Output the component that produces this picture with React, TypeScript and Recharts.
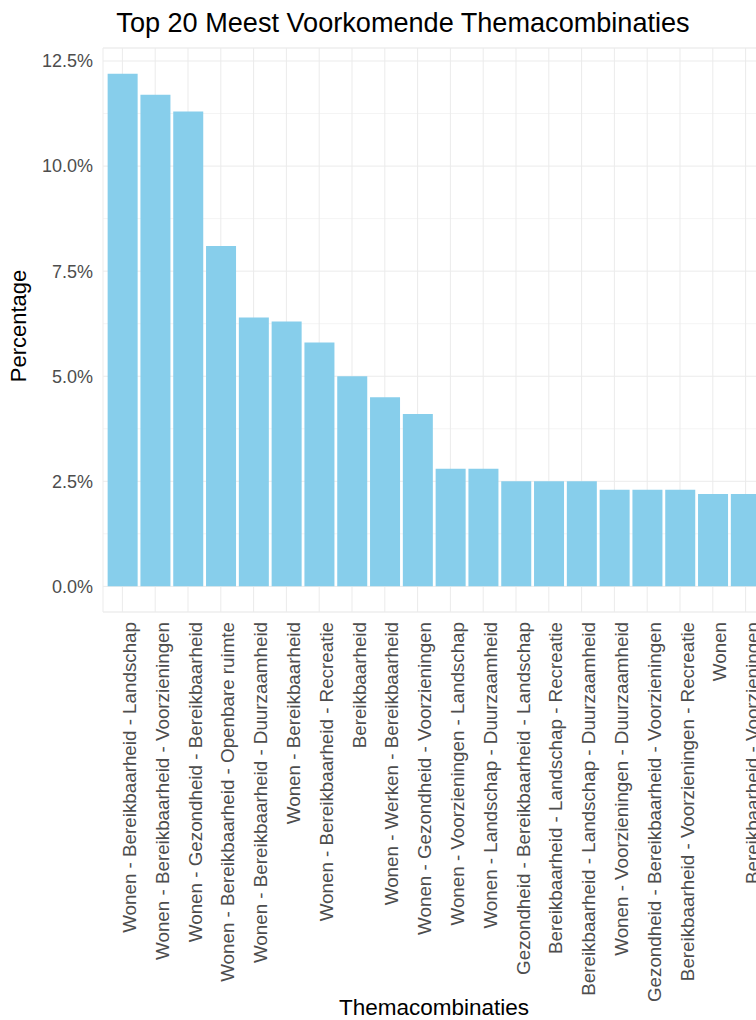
import React from 'react';
import { BarChart, Bar, XAxis, YAxis, CartesianGrid } from 'recharts';

const categories = [
  'Wonen - Bereikbaarheid - Landschap',
  'Wonen - Bereikbaarheid - Voorzieningen',
  'Wonen - Gezondheid - Bereikbaarheid',
  'Wonen - Bereikbaarheid - Openbare ruimte',
  'Wonen - Bereikbaarheid - Duurzaamheid',
  'Wonen - Bereikbaarheid',
  'Wonen - Bereikbaarheid - Recreatie',
  'Bereikbaarheid',
  'Wonen - Werken - Bereikbaarheid',
  'Wonen - Gezondheid - Voorzieningen',
  'Wonen - Voorzieningen - Landschap',
  'Wonen - Landschap - Duurzaamheid',
  'Gezondheid - Bereikbaarheid - Landschap',
  'Bereikbaarheid - Landschap - Recreatie',
  'Bereikbaarheid - Landschap - Duurzaamheid',
  'Wonen - Voorzieningen - Duurzaamheid',
  'Gezondheid - Bereikbaarheid - Voorzieningen',
  'Bereikbaarheid - Voorzieningen - Recreatie',
  'Wonen',
  'Bereikbaarheid - Voorzieningen',
];

const percentages = [12.2, 11.7, 11.3, 8.1, 6.4, 6.3, 5.8, 5.0, 4.5, 4.1, 2.8, 2.8, 2.5, 2.5, 2.5, 2.3, 2.3, 2.3, 2.2, 2.2];

const yTicks = [0, 2.5, 5, 7.5, 10, 12.5];
const yMinorTicks = [1.25, 3.75, 6.25, 8.75, 11.25];
const yDomain = [-0.61, 12.81];

const data = categories.map((name, i) => ({ name, value: percentages[i] }));

const FONT = '"Liberation Sans", Arial, Helvetica, sans-serif';

const XTick = (props: any) => {
  const { x, y, payload } = props;
  return (
    <text
      transform={`translate(${x},${y}) rotate(-90)`}
      x={-10}
      y={0}
      dy="0.72em"
      textAnchor="end"
      fill="#4d4d4d"
      fontSize={18.8}
      fontFamily={FONT}
    >
      {payload.value}
    </text>
  );
};

const XLabel = (props: any) => {
  const vb = props.viewBox;
  return (
    <text
      x={vb.x + vb.width / 2}
      y={vb.y + vb.height - 5}
      textAnchor="middle"
      fill="#000"
      fontSize={22.5}
      fontFamily={FONT}
    >
      Themacombinaties
    </text>
  );
};

const YLabel = (props: any) => {
  const vb = props.viewBox;
  const cx = 18;
  const cy = vb.y + vb.height / 2 - 4;
  return (
    <text
      transform={`translate(${cx},${cy}) rotate(-90)`}
      x={0}
      y={0}
      dy="0.35em"
      textAnchor="middle"
      fill="#000"
      fontSize={22}
      fontFamily={FONT}
    >
      Percentage
    </text>
  );
};

export default function App() {
  return (
    <div
      style={{
        position: 'fixed',
        left: 0,
        top: 0,
        width: 756,
        height: 1020,
        overflow: 'hidden',
        background: '#fff',
      }}
    >
      <div
        style={{
          position: 'absolute',
          left: 0,
          top: 9,
          width: 806,
          textAlign: 'center',
          fontFamily: FONT,
          fontSize: 27.1,
          lineHeight: '27px',
          color: '#000',
          whiteSpace: 'nowrap',
        }}
      >
        Top 20 Meest Voorkomende Themacombinaties
      </div>
      <BarChart
        width={770}
        height={1020}
        data={data}
        margin={{ top: 48, right: 5, bottom: 0, left: 0 }}
        barCategoryGap="5%"
      >
        <CartesianGrid
          yAxisId="minor"
          stroke="#f4f4f4"
          strokeWidth={1}
          vertical={false}
        />
        <CartesianGrid stroke="#ebebeb" strokeWidth={1} />
        <XAxis
          dataKey="name"
          interval={0}
          axisLine={false}
          tickLine={false}
          tickSize={0}
          tickMargin={0}
          height={408}
          padding={{ left: 3, right: 3 }}
          tick={(p: any) => <XTick {...p} />}
          label={(p: any) => <XLabel {...p} />}
        />
        <YAxis
          type="number"
          domain={yDomain}
          ticks={yTicks}
          allowDataOverflow
          width={103}
          axisLine={false}
          tickLine={false}
          tickSize={0}
          tickMargin={10}
          tick={{ fill: '#4d4d4d', fontSize: 18, fontFamily: FONT }}
          tickFormatter={(v: number) => `${v.toFixed(1)}%`}
          label={(p: any) => <YLabel {...p} />}
        />
        <YAxis
          yAxisId="minor"
          type="number"
          domain={yDomain}
          ticks={yMinorTicks}
          allowDataOverflow
          hide
        />
        <Bar dataKey="value" fill="#87CEEB" isAnimationActive={false} />
      </BarChart>
    </div>
  );
}
